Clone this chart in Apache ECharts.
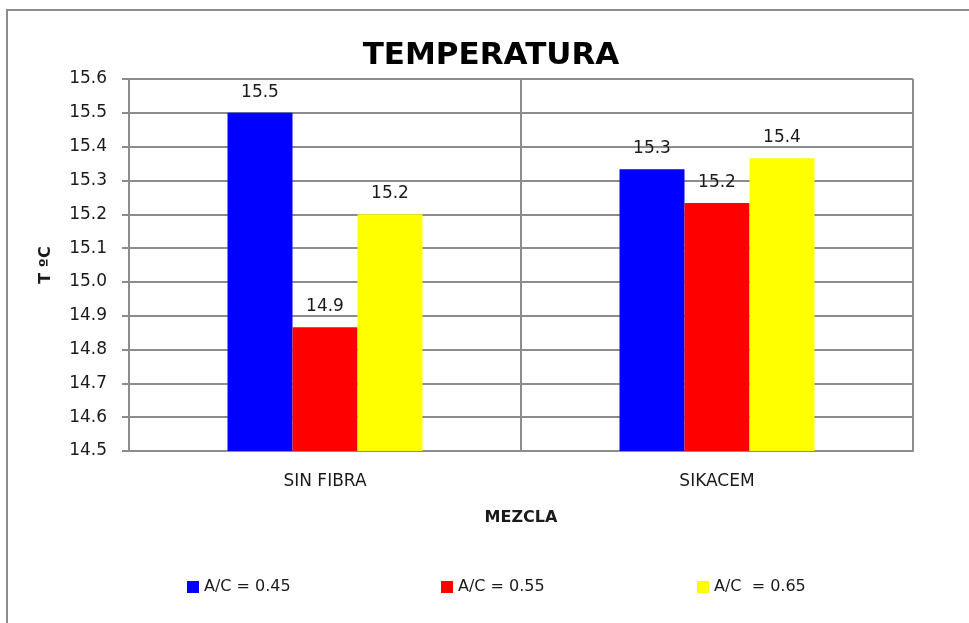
<!DOCTYPE html>
<html>
<head>
<meta charset="utf-8">
<script src="https://cdn.jsdelivr.net/npm/echarts@6/dist/echarts.min.js"></script>
<style>
  html, body { margin: 0; padding: 0; background: #ffffff; }
  #chart { width: 969px; height: 623px; }
</style>
</head>
<body>
<div id="chart"></div>
<script>
// Mixes on the category axis
const categories = ['SIN FIBRA', 'SIKACEM'];
// Water/cement ratio series names
const seriesNames = ['A/C = 0.45', 'A/C = 0.55', 'A/C  = 0.65'];
// Temperature (°C) per mix, one array per water/cement ratio
const valuesAC045 = [15.5, 15.333];
const valuesAC055 = [14.866, 15.233];
const valuesAC065 = [15.2, 15.366];
// Value axis range
const yMin = 14.5;
const yMax = 15.6;
const yStep = 0.1;

const seriesColors = ['#0000ff', '#ff0000', '#ffff00'];
const FONT = 'DejaVu Sans';
const TEXT = '#1a1a1a';
const GRID = '#8c8c8c';

const chart = echarts.init(document.getElementById('chart'), null, { renderer: 'canvas' });

function barSeries(name, data, color) {
  return {
    name: name,
    type: 'bar',
    data: data,
    barWidth: 65,
    barGap: '0%',
    itemStyle: { color: color },
    label: {
      show: true,
      position: 'top',
      distance: 12,
      fontFamily: FONT,
      fontSize: 17,
      color: TEXT,
      formatter: p => p.value.toFixed(1)
    }
  };
}

function legendAt(left, name) {
  return {
    data: [name],
    left: left,
    top: 579,
    icon: 'rect',
    itemWidth: 12,
    itemHeight: 12,
    itemGap: 0,
    padding: 0,
    textStyle: { fontFamily: FONT, fontSize: 16, color: TEXT, padding: [0, 0, 0, 0] }
  };
}

chart.setOption({
  animation: false,
  backgroundColor: '#ffffff',
  title: {
    text: 'TEMPERATURA',
    left: 491,
    textAlign: 'center',
    top: 40,
    padding: 0,
    textStyle: { fontFamily: FONT, fontSize: 31, fontWeight: 'bold', color: '#000000' }
  },
  legend: [
    legendAt(187, seriesNames[0]),
    legendAt(441, seriesNames[1]),
    legendAt(697, seriesNames[2])
  ],
  grid: { left: 129, right: 56, top: 79, bottom: 172, containLabel: false },
  xAxis: {
    type: 'category',
    data: categories,
    name: 'MEZCLA',
    nameLocation: 'middle',
    nameGap: 59,
    nameTextStyle: { fontFamily: FONT, fontSize: 16, fontWeight: 'bold', color: TEXT },
    axisLine: { show: true, lineStyle: { color: GRID, width: 2 } },
    axisTick: { show: false },
    axisLabel: { fontFamily: FONT, fontSize: 17, color: TEXT, margin: 22 },
    splitLine: { show: true, interval: 0, lineStyle: { color: GRID, width: 2 } }
  },
  yAxis: {
    type: 'value',
    min: yMin,
    max: yMax,
    interval: yStep,
    name: 'T ºC',
    nameLocation: 'middle',
    nameRotate: 90,
    nameGap: 75,
    nameTextStyle: { fontFamily: FONT, fontSize: 16, fontWeight: 'bold', color: TEXT },
    axisLine: { show: true, lineStyle: { color: GRID, width: 2 } },
    axisTick: { show: true, inside: false, length: 7, lineStyle: { color: GRID, width: 2 } },
    axisLabel: {
      fontFamily: FONT, fontSize: 17, color: TEXT, margin: 22,
      formatter: v => v.toFixed(1)
    },
    splitLine: { show: true, lineStyle: { color: GRID, width: 2 } }
  },
  graphic: [{
    type: 'rect',
    shape: { x: 7, y: 10, width: 1000, height: 660 },
    style: { fill: 'none', stroke: '#8c8c8c', lineWidth: 2 },
    silent: true,
    z: -1
  }],
  series: [
    barSeries(seriesNames[0], valuesAC045, seriesColors[0]),
    barSeries(seriesNames[1], valuesAC055, seriesColors[1]),
    barSeries(seriesNames[2], valuesAC065, seriesColors[2])
  ]
});
</script>
</body>
</html>
